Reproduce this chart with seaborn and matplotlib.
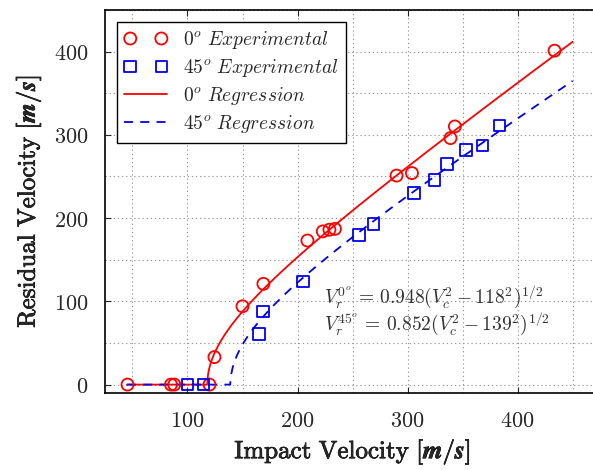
import numpy as np
import matplotlib
matplotlib.use('Agg')
import matplotlib.pyplot as plt
import matplotlib.patheffects as pe
import seaborn as sns
from matplotlib.ticker import MultipleLocator, FuncFormatter

# experimental points, 0 degree
v_imp_0 = [45.5, 85, 88, 120, 124.5, 150, 169, 209, 223, 229, 234, 290, 304, 339, 343, 433.6]
v_res_0 = [0, 0, 0, 0, 33, 94, 121, 173, 184, 186, 187, 251, 254, 296, 310, 401]

# experimental points, 45 degree
v_imp_45 = [100, 114.5, 165, 168.5, 205, 256, 269, 306, 324.5, 336, 353, 368, 383.6]
v_res_45 = [0, 0, 61, 88, 124, 180, 193, 230, 246, 265, 282, 287, 311]

# regression coefficients shown on the chart
a_0, vbl_0 = 0.948, 118
a_45, vbl_45 = 0.852, 139
v_range = [45, 450]


def regression(a, vbl):
    vc = np.linspace(v_range[0], v_range[1], 800)
    vr = a * np.sqrt(np.clip(vc**2 - vbl**2, 0, None))
    return vc, vr


sns.set_style('ticks')
plt.rcParams['mathtext.fontset'] = 'cm'
plt.rcParams['font.family'] = ['serif']
plt.rcParams['font.serif'] = ['DejaVu Serif']

fig = plt.figure(figsize=(5.93, 4.70), dpi=100)
ax = fig.add_axes([0.177, 0.164, 0.835, 0.815])

sns.scatterplot(x=v_imp_0, y=v_res_0, ax=ax, marker='o', s=75,
                facecolor='none', edgecolor='#ff0000', linewidth=1.3,
                label=r'$0^o\ Experimental$', zorder=3)
sns.scatterplot(x=v_imp_45, y=v_res_45, ax=ax, marker='s', s=70,
                facecolor='none', edgecolor='#0000ee', linewidth=1.3,
                label=r'$45^o\ Experimental$', zorder=3)

x0, y0 = regression(a_0, vbl_0)
x45, y45 = regression(a_45, vbl_45)
sns.lineplot(x=x0, y=y0, ax=ax, color='#ff0000', linewidth=1.3,
             label=r'$0^o\ Regression$', sort=False, zorder=2)
sns.lineplot(x=x45, y=y45, ax=ax, color='#0000ee', linewidth=1.3,
             linestyle=(0, (5, 4)), label=r'$45^o\ Regression$', sort=False, zorder=2)

ax.set_xlim(25, 475)
ax.set_ylim(-10, 450)
ax.xaxis.set_major_locator(MultipleLocator(100))
ax.xaxis.set_minor_locator(MultipleLocator(50))
ax.yaxis.set_major_locator(MultipleLocator(100))
ax.yaxis.set_minor_locator(MultipleLocator(50))
ax.grid(which='both', color='#999999', linestyle=(0, (1.2, 2.5)), linewidth=0.8)
ax.tick_params(which='major', direction='in', length=4, width=0.8,
               labelsize=16, pad=12, top=True)
ax.tick_params(which='minor', length=0)
fmt = FuncFormatter(lambda v, p: r'$\mathrm{%d}$' % v)
ax.xaxis.set_major_formatter(fmt)
ax.yaxis.set_major_formatter(fmt)
for s in ax.spines.values():
    s.set_linewidth(1.2)
    s.set_edgecolor('black')

stroke = [pe.withStroke(linewidth=0.5, foreground='black')]
ax.set_xlabel(r'$\mathrm{Impact\ Velocity}\ [\boldsymbol{m/s}]$', fontsize=18,
              labelpad=4, path_effects=stroke)
ax.set_ylabel(r'$\mathrm{Residual\ Velocity}\ [\boldsymbol{m/s}]$', fontsize=18,
              labelpad=8, path_effects=stroke)

ax.text(224, 98, r'$V_r^{0^o}\,=\,0.948(V_c^2 - 118^2)^{1/2}$', fontsize=14, color='#333333')
ax.text(224, 66, r'$V_r^{45^o}\,=\,0.852(V_c^2 - 139^2)^{1/2}$', fontsize=14, color='#333333')

leg = ax.legend(loc='upper left', scatterpoints=2, scatteryoffsets=[0.5],
                fontsize=14, frameon=True, fancybox=False, edgecolor='black',
                framealpha=1, borderaxespad=0.6, handlelength=2.2, labelspacing=0.3,
                borderpad=0.4)
leg.get_frame().set_linewidth(1.0)

fig.savefig('out.png', dpi=100)
